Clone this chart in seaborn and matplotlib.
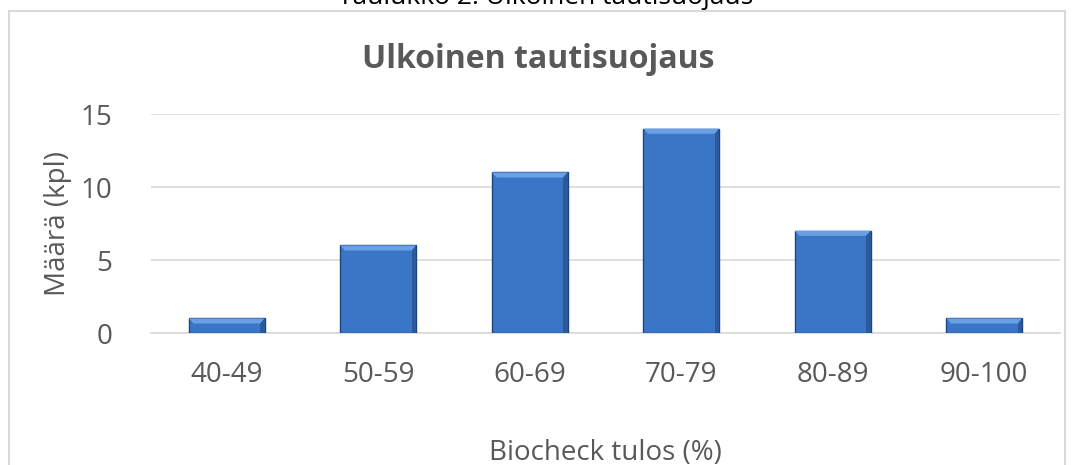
import matplotlib
matplotlib.use("Agg")
import matplotlib.pyplot as plt
import pandas as pd
import seaborn as sns
from matplotlib.patches import Rectangle, Polygon

categories = ["40-49", "50-59", "60-69", "70-79", "80-89", "90-100"]
counts = [1, 6, 11, 14, 7, 1]
yticks = [0, 5, 10, 15]

sns.set_theme(style="white")
plt.rcParams["font.family"] = ["Open Sans", "DejaVu Sans"]

df = pd.DataFrame({"tulos": categories, "maara": counts})

fig = plt.figure(figsize=(10.76, 4.65), dpi=100)
ax = fig.add_axes([151 / 1076, 1 - 333 / 465, (1060 - 151) / 1076, (333 - 114) / 465])

sns.barplot(data=df, x="tulos", y="maara", order=categories, color="#3b76c6",
            width=0.5, edgecolor="#1d4580", linewidth=1.0, saturation=1, ax=ax, zorder=3)

# bevel: lighter trapezoid along the top edge of each bar
for bar in ax.patches[:len(categories)]:
    x0, w, h = bar.get_x(), bar.get_width(), bar.get_height()
    d = 0.35
    dx = 0.03
    ax.add_patch(Polygon([(x0, h), (x0 + w, h), (x0 + w - dx, h - d), (x0 + dx, h - d)],
                         closed=True, color="#68a0e6", lw=0, zorder=4))
    ax.add_patch(Polygon([(x0 + w, h), (x0 + w, 0), (x0 + w - dx, 0), (x0 + w - dx, h - d)],
                         closed=True, color="#2a5a9c", lw=0, zorder=4))

ax.set_ylim(0, 15)
ax.set_xlim(-0.5, len(categories) - 0.5)
ax.set_yticks(yticks)
ax.yaxis.grid(True, color="#d9d9d9", linewidth=1.2, zorder=0)
for s in ["top", "right", "left"]:
    ax.spines[s].set_visible(False)
ax.spines["bottom"].set_color("#d9d9d9")
ax.spines["bottom"].set_linewidth(1.2)
ax.tick_params(axis="both", length=0, labelsize=20, labelcolor="#595959")
ax.tick_params(axis="y", pad=28)
ax.tick_params(axis="x", pad=20)
ax.set_xlabel("Biocheck tulos (%)", fontsize=20, color="#595959", labelpad=36)
ax.set_ylabel("Määrä (kpl)", fontsize=20, color="#595959", labelpad=6)

fig.text(0.5, 1 - 59 / 465, "Ulkoinen tautisuojaus", ha="center", va="center",
         fontsize=23, fontweight="bold", color="#595959")
fig.text(0.507, 1 + 2 / 465, "Taulukko 2. Ulkoinen tautisuojaus", ha="center", va="center",
         fontsize=19, color="black")

fig.patches.append(Rectangle((9 / 1076, -0.1), (1065 - 9) / 1076, 1.1 - 11 / 465,
                             transform=fig.transFigure, fill=False,
                             edgecolor="#d9d9d9", linewidth=1.5))

fig.savefig("out.png", dpi=100)
